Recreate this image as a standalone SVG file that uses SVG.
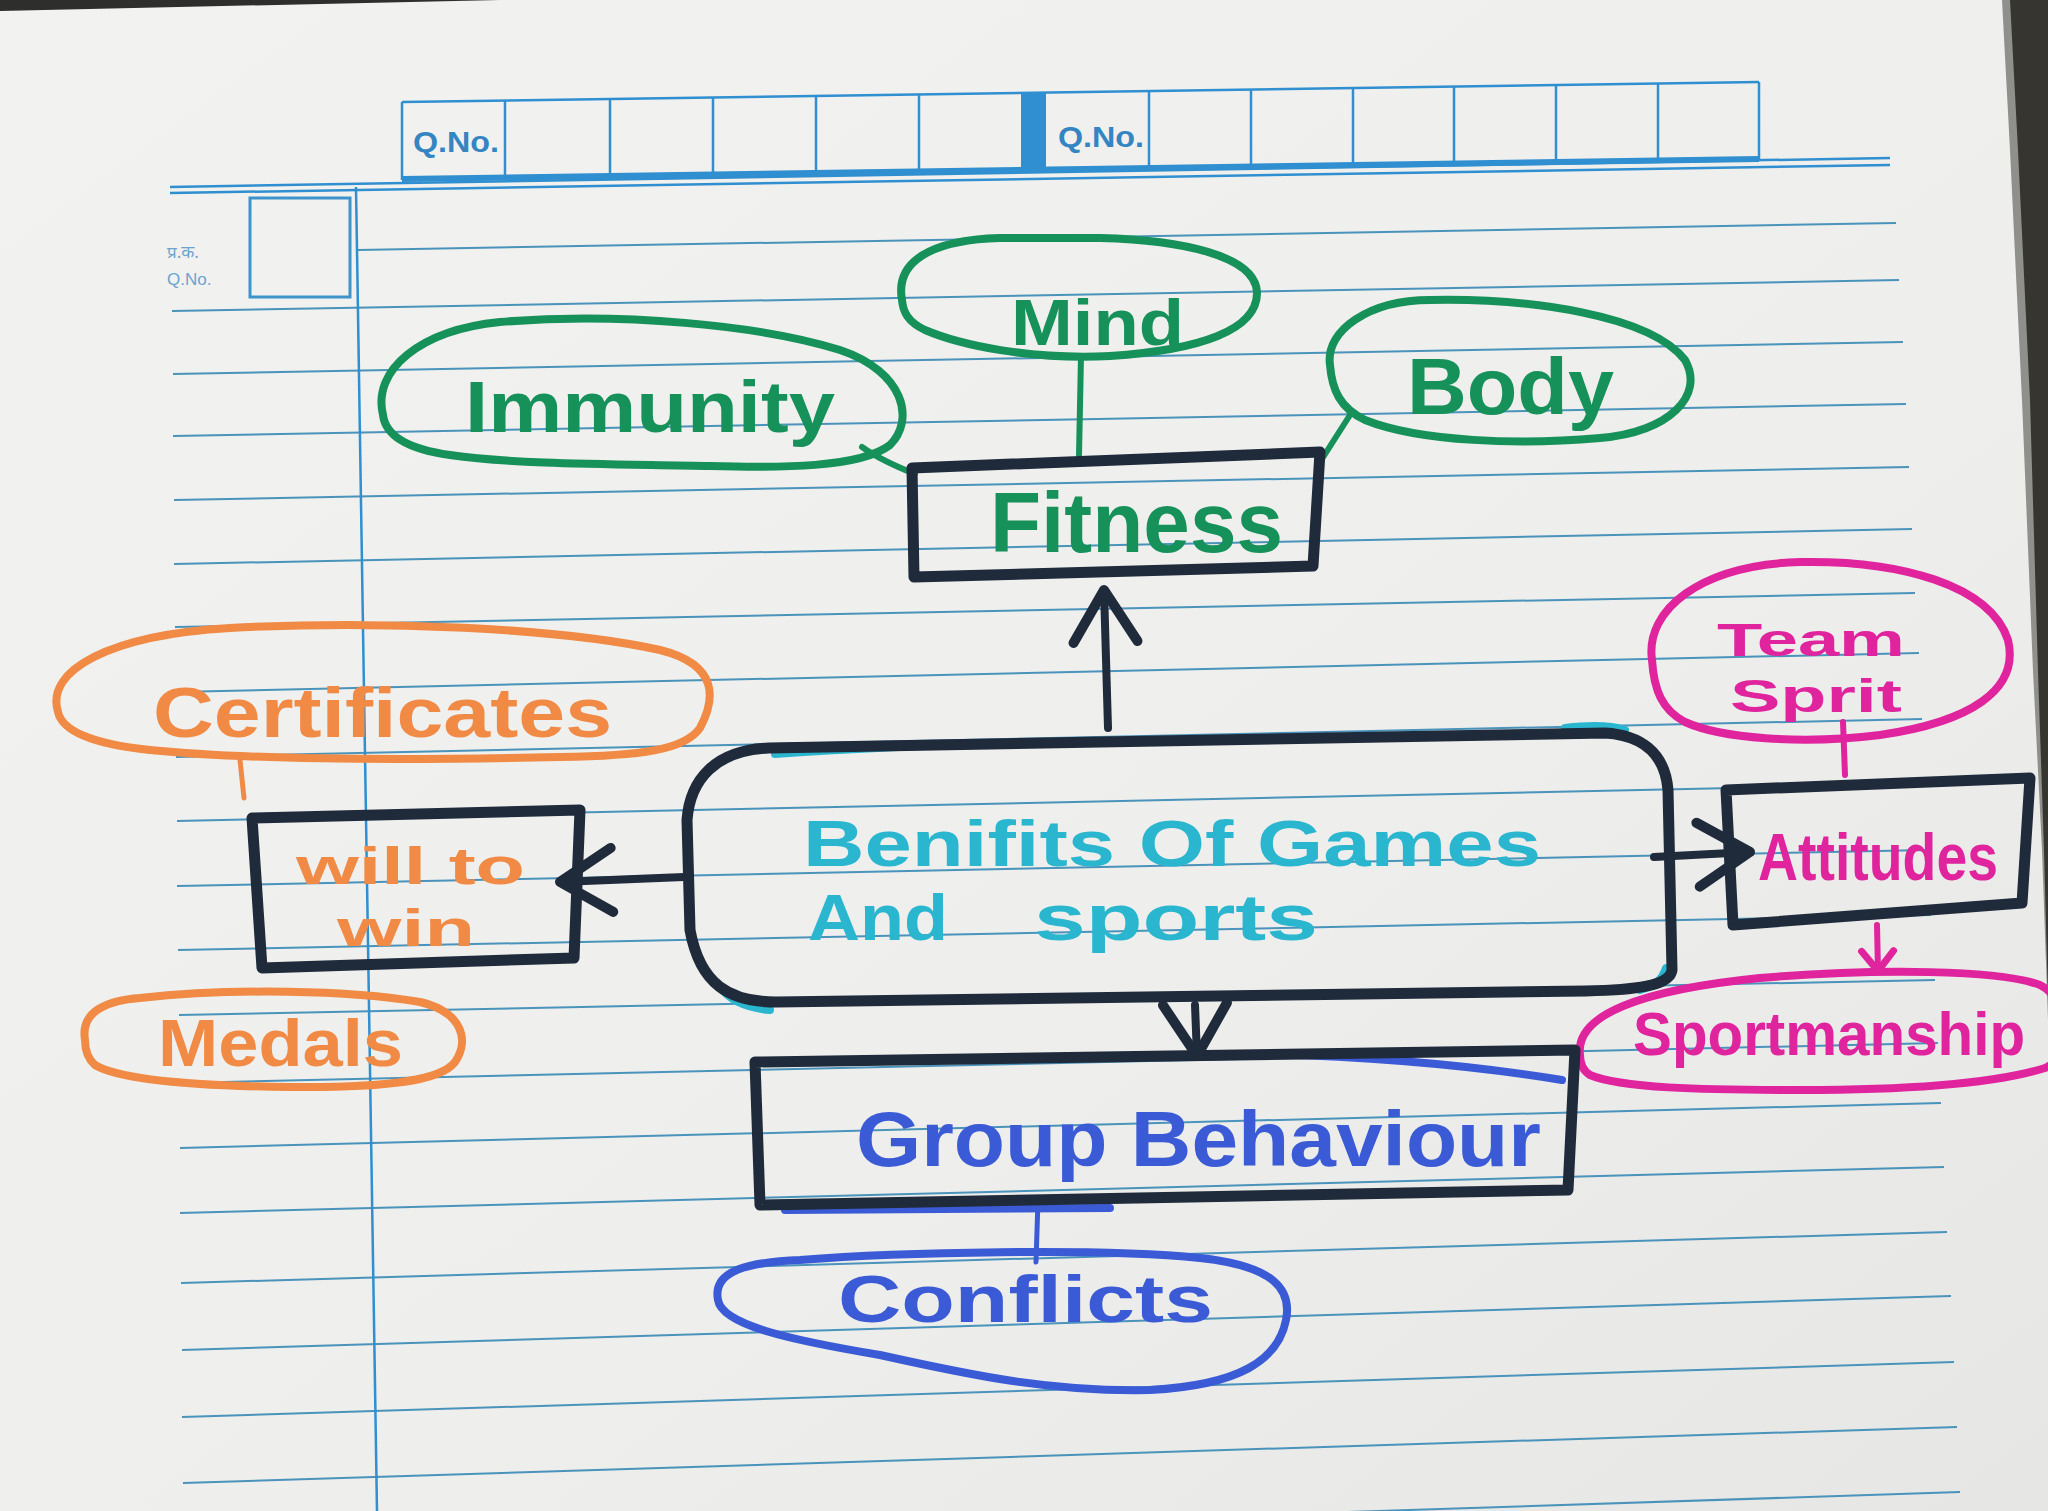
<svg xmlns="http://www.w3.org/2000/svg" width="2048" height="1511" viewBox="0 0 2048 1511">
<defs>
  <linearGradient id="paperGrad" x1="0" y1="0" x2="1" y2="1">
    <stop offset="0" stop-color="#f2f2f0"/>
    <stop offset="0.6" stop-color="#eeeeec"/>
    <stop offset="1" stop-color="#e6e6e4"/>
  </linearGradient>
  <marker id="chevNavy" viewBox="0 0 70 80" refX="60" refY="40" markerWidth="70" markerHeight="80" markerUnits="userSpaceOnUse" orient="auto" overflow="visible">
    <path d="M8,8 L60,40 L8,72" fill="none" stroke="#1f2b3b" stroke-width="10" stroke-linecap="round" stroke-linejoin="round"/>
  </marker>
  <marker id="chevMag" viewBox="0 0 30 40" refX="26" refY="20" markerWidth="30" markerHeight="40" markerUnits="userSpaceOnUse" orient="auto" overflow="visible">
    <path d="M6,4 L26,20 L6,36" fill="none" stroke="#e0249e" stroke-width="7" stroke-linecap="round" stroke-linejoin="round"/>
  </marker>
</defs>
<style>
  .rule{stroke:#4a93bb;stroke-width:2;fill:none}
  .hdr{stroke:#2f8fd0;stroke-width:2.5;fill:none}
  .hdrtxt{font-family:"Liberation Sans",Arial,sans-serif;font-weight:bold;fill:#3585c2}
  .ink{fill:none;stroke-linecap:round;stroke-linejoin:round}
  .oval{stroke-width:8}
  .box{stroke:#1f2b3b;stroke-width:11}
  .green{stroke:#16915a}
  .orange{stroke:#f08a45}
  .magenta{stroke:#e0249e}
  .blue{stroke:#3b5bd6}
  .cyan{stroke:#2bb6d0}
  .navy{stroke:#1f2b3b}
  .t{font-family:"Liberation Sans",Arial,sans-serif;font-weight:bold}
  .tg{fill:#16915a}
  .to{fill:#f08a45}
  .tm{fill:#e0249e}
  .tb{fill:#3b5bd6}
  .tc{fill:#2bb6d0}
</style>

<!-- paper and photo background -->
<rect x="0" y="0" width="2048" height="1511" fill="url(#paperGrad)"/>
<polygon points="0,0 500,0 0,11" fill="#2e2e2c"/>
<polygon points="2002,0 2048,0 2048,1020 2042,850 2033,671 2022,400 2010,150" fill="#8f8f8b"/>
<polygon points="2010,0 2048,0 2048,1000 2044,850 2038,671 2030,400 2018,150" fill="#36352f"/>

<!-- ruled lines -->
<g id="rules">
  <line class="rule" x1="358" y1="250" x2="1896" y2="223"/>
  <line class="rule" x1="172" y1="311" x2="1899" y2="280"/>
  <line class="rule" x1="173" y1="374" x2="1903" y2="342"/>
  <line class="rule" x1="173" y1="436" x2="1906" y2="404"/>
  <line class="rule" x1="174" y1="500" x2="1909" y2="467"/>
  <line class="rule" x1="174" y1="564" x2="1912" y2="529"/>
  <line class="rule" x1="175" y1="627" x2="1915" y2="593"/>
  <line class="rule" x1="176" y1="692" x2="1919" y2="653"/>
  <line class="rule" x1="176" y1="757" x2="1922" y2="719"/>
  <line class="rule" x1="177" y1="821" x2="1925" y2="784"/>
  <line class="rule" x1="177" y1="886" x2="1928" y2="850"/>
  <line class="rule" x1="178" y1="950" x2="1931" y2="915"/>
  <line class="rule" x1="179" y1="1015" x2="1935" y2="980"/>
  <line class="rule" x1="179" y1="1083" x2="1938" y2="1043"/>
  <line class="rule" x1="180" y1="1148" x2="1941" y2="1103"/>
  <line class="rule" x1="180" y1="1213" x2="1944" y2="1167"/>
  <line class="rule" x1="181" y1="1283" x2="1947" y2="1232"/>
  <line class="rule" x1="182" y1="1350" x2="1951" y2="1296"/>
  <line class="rule" x1="182" y1="1417" x2="1954" y2="1362"/>
  <line class="rule" x1="183" y1="1483" x2="1957" y2="1427"/>
  <line class="rule" x1="183" y1="1550" x2="1960" y2="1492"/>
</g>

<!-- printed header -->
<g id="header">
  <line class="hdr" x1="170" y1="187" x2="1890" y2="158"/>
  <line class="hdr" x1="170" y1="193" x2="1890" y2="165"/>
  <line class="hdr" x1="356" y1="187" x2="377" y2="1511"/>
  <line x1="402" y1="179" x2="1759" y2="159" stroke="#2f8fd0" stroke-width="6"/>
  <line class="hdr" x1="402" y1="102" x2="1759" y2="82"/>
  <line class="hdr" x1="402" y1="102" x2="402" y2="180"/>
  <line class="hdr" x1="505" y1="100" x2="505" y2="178"/>
  <line class="hdr" x1="610" y1="99" x2="610" y2="177"/>
  <line class="hdr" x1="713" y1="97" x2="713" y2="175"/>
  <line class="hdr" x1="816" y1="96" x2="816" y2="174"/>
  <line class="hdr" x1="919" y1="94" x2="919" y2="172"/>
  <polygon points="1021,93 1046,92 1046,171 1021,171" fill="#2f8fd0"/>
  <line class="hdr" x1="1149" y1="91" x2="1149" y2="169"/>
  <line class="hdr" x1="1251" y1="89" x2="1251" y2="167"/>
  <line class="hdr" x1="1353" y1="88" x2="1353" y2="166"/>
  <line class="hdr" x1="1454" y1="86" x2="1454" y2="164"/>
  <line class="hdr" x1="1556" y1="85" x2="1556" y2="163"/>
  <line class="hdr" x1="1658" y1="83" x2="1658" y2="161"/>
  <line class="hdr" x1="1759" y1="82" x2="1759" y2="160"/>
  <text class="hdrtxt" x="413" y="152" font-size="30" textLength="86" lengthAdjust="spacingAndGlyphs">Q.No.</text>
  <text class="hdrtxt" x="1058" y="147" font-size="30" textLength="86" lengthAdjust="spacingAndGlyphs">Q.No.</text>
  <rect x="250" y="198" width="100" height="99" fill="none" stroke="#3d93cc" stroke-width="3"/>
  <text x="167" y="258" font-family="'Noto Sans','DejaVu Sans',sans-serif" font-size="17" fill="#6aa5cf">प्र.क.</text>
  <text x="167" y="285" font-family="'Liberation Sans',Arial,sans-serif" font-size="17" fill="#6aa5cf">Q.No.</text>
</g>

<!-- connectors -->
<g id="connectors" class="ink">
  <path class="green" stroke-width="6" d="M1081 356 L1079 455"/>
  <path class="green" stroke-width="6" d="M862 447 C880 460 900 468 915 474"/>
  <path class="green" stroke-width="6" d="M1350 415 L1320 462"/>
  <path class="navy" stroke-width="8" d="M1108 728 L1104 590" marker-end="url(#chevNavy)"/>
  <path class="navy" stroke-width="8" d="M684 877 L560 882" marker-end="url(#chevNavy)"/>
  <path class="navy" stroke-width="8" d="M1654 857 L1750 852" marker-end="url(#chevNavy)"/>
  <path class="navy" stroke-width="8" d="M1195 1005 L1197 1056" marker-end="url(#chevNavy)"/>
  <path class="orange" stroke-width="5" d="M240 760 L244 798"/>
  <path class="magenta" stroke-width="6" d="M1843 722 L1845 775"/>
  <path class="magenta" stroke-width="6" d="M1877 925 L1878 971" marker-end="url(#chevMag)"/>
  <path class="blue" stroke-width="5" d="M1038 1200 L1036 1262"/>
</g>

<!-- nodes -->
<g id="node-mind">
  <path class="ink oval green" d="M902 300 C895 262 930 240 1000 238 L1100 238 C1180 240 1255 255 1257 292 C1258 330 1200 350 1110 356 C1030 360 960 345 925 330 C908 322 903 312 902 300 Z"/>
  <text class="t tg" x="1011" y="345" font-size="64" textLength="173" lengthAdjust="spacingAndGlyphs">Mind</text>
</g>
<g id="node-immunity">
  <path class="ink oval green" d="M383 415 C372 370 420 330 500 322 C620 312 760 325 840 350 C905 372 915 420 890 445 C860 468 780 468 710 466 C620 464 520 465 450 455 C400 448 385 432 383 415 Z"/>
  <text class="t tg" x="465" y="432" font-size="72" textLength="370" lengthAdjust="spacingAndGlyphs">Immunity</text>
</g>
<g id="node-body">
  <path class="ink oval green" d="M1330 365 C1325 330 1370 300 1430 300 C1530 298 1650 315 1685 360 C1705 395 1670 432 1600 438 C1520 445 1420 442 1365 420 C1340 408 1332 390 1330 365 Z"/>
  <text class="t tg" x="1407" y="414" font-size="80" textLength="207" lengthAdjust="spacingAndGlyphs">Body</text>
</g>
<g id="node-fitness">
  <path class="ink box" d="M912 468 L1320 452 L1313 566 L914 577 Z"/>
  <text class="t tg" x="990" y="552" font-size="86" textLength="293" lengthAdjust="spacingAndGlyphs">Fitness</text>
</g>
<g id="node-center">
  <path class="ink cyan" stroke-width="8" d="M775 754 C900 745 1040 742 1140 742"/>
  <path class="ink cyan" stroke-width="8" d="M716 982 C728 1000 745 1008 770 1010"/>
  <path class="ink cyan" stroke-width="8" d="M1640 990 C1655 986 1662 980 1666 968"/>
  <path class="ink cyan" stroke-width="8" d="M1565 728 C1590 725 1610 725 1625 730"/>
  <path class="ink box" d="M769 748 L1605 733 C1640 735 1665 752 1668 790 L1672 970 C1670 985 1640 990 1586 991 L776 1002 C730 1002 700 985 690 930 L687 820 C690 780 715 750 769 748 Z"/>
  <text class="t tc" x="803" y="866" font-size="64" textLength="738" lengthAdjust="spacingAndGlyphs">Benifits Of Games</text>
  <text class="t tc" font-size="64"><tspan x="808" y="940" textLength="140" lengthAdjust="spacingAndGlyphs">And</tspan><tspan x="1034" y="940" textLength="284" lengthAdjust="spacingAndGlyphs">sports</tspan></text>
</g>
<g id="node-certificates">
  <path class="ink oval orange" d="M58 712 C45 670 110 635 230 628 C380 620 560 628 660 650 C720 665 715 700 700 728 C685 750 640 756 560 757 C420 760 250 760 150 750 C90 744 62 730 58 712 Z"/>
  <text class="t to" x="153" y="737" font-size="70" textLength="459" lengthAdjust="spacingAndGlyphs">Certificates</text>
</g>
<g id="node-willtowin">
  <path class="ink box" d="M252 818 L580 810 L574 958 L262 968 Z"/>
  <text class="t to" x="296" y="884" font-size="52" textLength="229" lengthAdjust="spacingAndGlyphs">will to</text>
  <text class="t to" x="337" y="946" font-size="52" textLength="138" lengthAdjust="spacingAndGlyphs">win</text>
</g>
<g id="node-medals">
  <path class="ink oval orange" d="M85 1040 C80 1010 110 1000 140 998 C230 988 350 990 420 1002 C462 1012 470 1040 455 1062 C440 1082 380 1088 290 1087 C200 1086 120 1080 95 1065 C87 1058 85 1050 85 1040 Z"/>
  <text class="t to" x="158" y="1066" font-size="66" textLength="245" lengthAdjust="spacingAndGlyphs">Medals</text>
</g>
<g id="node-teamsprit">
  <path class="ink oval magenta" d="M1652 660 C1645 610 1700 565 1800 562 C1900 560 1990 585 2008 640 C2020 690 1970 722 1880 735 C1800 745 1720 738 1685 722 C1662 710 1654 690 1652 660 Z"/>
  <text class="t tm" x="1717" y="656" font-size="46" textLength="188" lengthAdjust="spacingAndGlyphs">Team</text>
  <text class="t tm" x="1730" y="712" font-size="46" textLength="172" lengthAdjust="spacingAndGlyphs">Sprit</text>
</g>
<g id="node-attitudes">
  <path class="ink box" d="M1726 790 L2030 778 L2022 903 L1733 925 Z"/>
  <text class="t tm" x="1758" y="880" font-size="66" textLength="240" lengthAdjust="spacingAndGlyphs">Attitudes</text>
</g>
<g id="node-sportmanship">
  <path class="ink oval magenta" d="M1580 1055 C1575 1015 1640 990 1760 978 C1880 968 2000 970 2040 985 C2070 1000 2075 1055 2045 1068 C1990 1085 1900 1090 1800 1090 C1700 1090 1620 1088 1590 1075 C1582 1070 1580 1062 1580 1055 Z"/>
  <text class="t tm" x="1633" y="1055" font-size="62" textLength="392" lengthAdjust="spacingAndGlyphs">Sportmanship</text>
</g>
<g id="node-group">
  <path class="ink blue" stroke-width="8" d="M1255 1054 C1400 1057 1500 1070 1562 1080"/>
  <path class="ink blue" stroke-width="8" d="M785 1210 L1110 1208"/>
  <path class="ink box" d="M755 1062 L1575 1050 L1568 1190 L760 1205 Z"/>
  <text class="t tb" x="856" y="1166" font-size="78" textLength="685" lengthAdjust="spacingAndGlyphs">Group Behaviour</text>
</g>
<g id="node-conflicts">
  <path class="ink oval blue" d="M718 1300 C712 1270 750 1262 800 1260 C900 1252 1100 1248 1200 1258 C1275 1266 1292 1290 1286 1320 C1278 1360 1240 1385 1150 1390 C1050 1392 970 1375 880 1355 C790 1340 722 1325 718 1300 Z"/>
  <text class="t tb" x="838" y="1322" font-size="66" textLength="375" lengthAdjust="spacingAndGlyphs">Conflicts</text>
</g>
</svg>
